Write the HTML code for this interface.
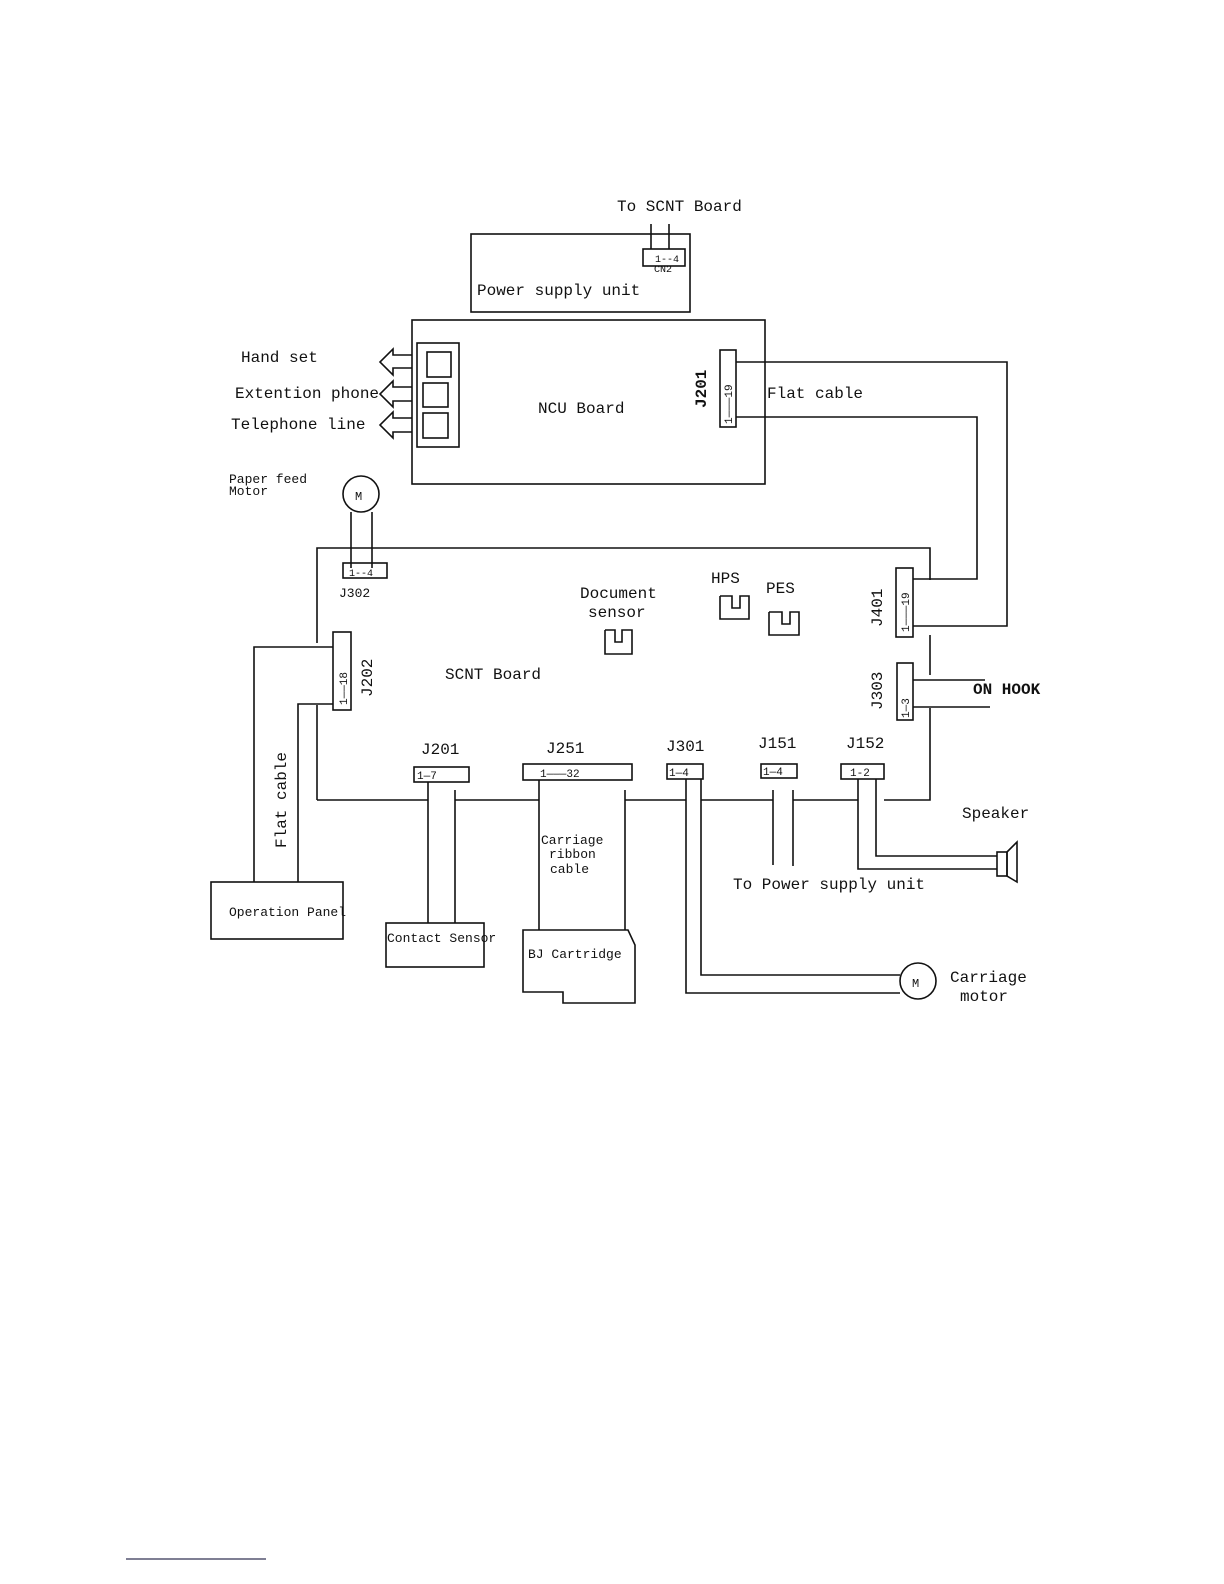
<!DOCTYPE html>
<html><head><meta charset="utf-8"><style>
html,body{margin:0;padding:0;background:#fff}
svg{display:block}
text{font-family:"Liberation Mono",monospace;fill:#111}
</style></head><body>
<svg width="1224" height="1584" viewBox="0 0 1224 1584" xmlns="http://www.w3.org/2000/svg">
<g fill="none" stroke="#111" stroke-width="1.6">
<!-- Power supply -->
<rect x="471" y="234" width="219" height="78"/>
<rect x="643" y="249" width="42" height="17"/>
<line x1="651" y1="224" x2="651" y2="249"/><line x1="669" y1="224" x2="669" y2="249"/>
<!-- NCU -->
<rect x="412" y="320" width="353" height="164"/>
<rect x="417" y="343" width="42" height="104"/>
<rect x="427" y="352" width="24" height="25"/>
<rect x="423" y="383" width="25" height="24"/>
<rect x="423" y="413" width="25" height="25"/>
<polyline points="412,355 393,355 393,349 380,362 393,375 393,368 412,368"/>
<polyline points="412,387 393,387 393,381 380,394 393,407 393,401 412,401"/>
<polyline points="412,418 393,418 393,412 380,425 393,438 393,432 412,432"/>
<rect x="720" y="350" width="16" height="77"/>
<polyline points="736,362 1007,362 1007,626 913,626"/>
<polyline points="736,417 977,417 977,579 913,579"/>
<!-- SCNT -->
<polyline points="317,643 317,548 930,548 930,580"/>
<line x1="930" y1="635" x2="930" y2="675"/>
<polyline points="930,708 930,800 884,800"/>
<rect x="896" y="568" width="17" height="69"/>
<rect x="897" y="663" width="16" height="57"/>
<line x1="913" y1="680" x2="985" y2="680"/>
<line x1="913" y1="707" x2="990" y2="707"/>
<line x1="317" y1="705" x2="317" y2="800"/>
<line x1="317" y1="800" x2="428" y2="800"/>
<line x1="455" y1="800" x2="539" y2="800"/>
<line x1="625" y1="800" x2="686" y2="800"/>
<line x1="701" y1="800" x2="773" y2="800"/>
<line x1="793" y1="800" x2="858" y2="800"/>
<!-- J302 / motor -->
<circle cx="361" cy="494" r="18"/>
<rect x="343" y="563" width="44" height="15"/>
<line x1="351" y1="512" x2="351" y2="568"/><line x1="372" y1="512" x2="372" y2="568"/>
<!-- J202 -->
<rect x="333" y="632" width="18" height="78"/>
<polyline points="333,647 254,647 254,882"/>
<polyline points="333,704 298,704 298,882"/>
<rect x="211" y="882" width="132" height="57"/>
<!-- J201 bottom -->
<rect x="414" y="767" width="55" height="15"/>
<line x1="428" y1="782" x2="428" y2="923"/><line x1="455" y1="790" x2="455" y2="923"/>
<rect x="386" y="923" width="98" height="44"/>
<!-- J251 -->
<rect x="523" y="764" width="109" height="16"/>
<line x1="539" y1="780" x2="539" y2="930"/><line x1="625" y1="790" x2="625" y2="930"/>
<polygon points="523,930 628,930 635,945 635,1003 563,1003 563,992 523,992"/>
<!-- J301 -->
<rect x="667" y="764" width="36" height="15"/>
<polyline points="686,779 686,993 900,993"/>
<polyline points="701,779 701,975 900,975"/>
<circle cx="918" cy="981" r="18"/>
<!-- J151 -->
<rect x="761" y="764" width="36" height="14"/>
<line x1="773" y1="790" x2="773" y2="865"/><line x1="793" y1="790" x2="793" y2="866"/>
<!-- J152 -->
<rect x="841" y="764" width="43" height="15"/>
<polyline points="858,779 858,869 997,869"/>
<polyline points="876,779 876,856 997,856"/>
<rect x="997" y="852" width="10" height="24"/>
<polygon points="1007,852 1017,842 1017,882 1007,876"/>
<!-- sensors -->
<polyline points="605,630 605,654 632,654 632,630 622,630 622,642 615,642 615,630 605,630"/>
<polyline points="720,596 720,619 749,619 749,596 740,596 740,608 732,608 732,596 720,596"/>
<polyline points="769,612 769,635 799,635 799,612 790,612 790,624 782,624 782,612 769,612"/>
</g>
<line x1="126" y1="1559" x2="266" y2="1559" stroke="#335" stroke-width="1.2"/>
<g font-size="16">
<text x="617" y="211">To SCNT Board</text>
<text x="477" y="295">Power supply unit</text>
<text x="241" y="362">Hand set</text>
<text x="235" y="398">Extention phone</text>
<text x="231" y="429">Telephone line</text>
<text x="538" y="413">NCU Board</text>
<text x="767" y="398">Flat cable</text>
<text x="445" y="679">SCNT Board</text>
<text x="580" y="598">Document</text>
<text x="588" y="617">sensor</text>
<text x="711" y="583">HPS</text>
<text x="766" y="593">PES</text>
<text x="421" y="754">J201</text>
<text x="546" y="753">J251</text>
<text x="666" y="751">J301</text>
<text x="758" y="748">J151</text>
<text x="846" y="748">J152</text>
<text x="962" y="818">Speaker</text>
<text x="733" y="889">To Power supply unit</text>
<text x="950" y="982">Carriage</text>
<text x="960" y="1001">motor</text>
<text x="973" y="694" font-weight="bold">ON HOOK</text>
</g>
<g font-size="13">
<text x="229" y="483">Paper feed</text>
<text x="229" y="495">Motor</text>
<text x="339" y="597">J302</text>
<text x="541" y="844">Carriage</text>
<text x="549" y="858">ribbon</text>
<text x="550" y="873">cable</text>
<text x="528" y="958">BJ Cartridge</text>
<text x="387" y="942">Contact Sensor</text>
<text x="229" y="916">Operation Panel</text>
<text x="355" y="500" font-size="12">M</text>
<text x="912" y="987" font-size="12">M</text>
<text x="654" y="272" font-size="10">CN2</text>
<text x="655" y="262" font-size="10">1--4</text>
<text x="349" y="576" font-size="10">1--4</text>
<text x="417" y="779" font-size="11">1—7</text>
<text x="540" y="777" font-size="11">1———32</text>
<text x="669" y="776" font-size="11">1—4</text>
<text x="763" y="775" font-size="11">1—4</text>
<text x="850" y="776" font-size="11">1-2</text>
</g>
<g font-size="16">
<text transform="translate(706,408) rotate(-90)" font-weight="bold">J201</text>
<text transform="translate(882,627) rotate(-90)">J401</text>
<text transform="translate(882,710) rotate(-90)">J303</text>
<text transform="translate(372,697) rotate(-90)">J202</text>
<text transform="translate(286,848) rotate(-90)">Flat cable</text>
</g>
<g font-size="11">
<text transform="translate(732,424) rotate(-90)">1———19</text>
<text transform="translate(909,632) rotate(-90)">1———19</text>
<text transform="translate(909,718) rotate(-90)">1—3</text>
<text transform="translate(347,705) rotate(-90)">1——18</text>
</g>
</svg>
</body></html>
